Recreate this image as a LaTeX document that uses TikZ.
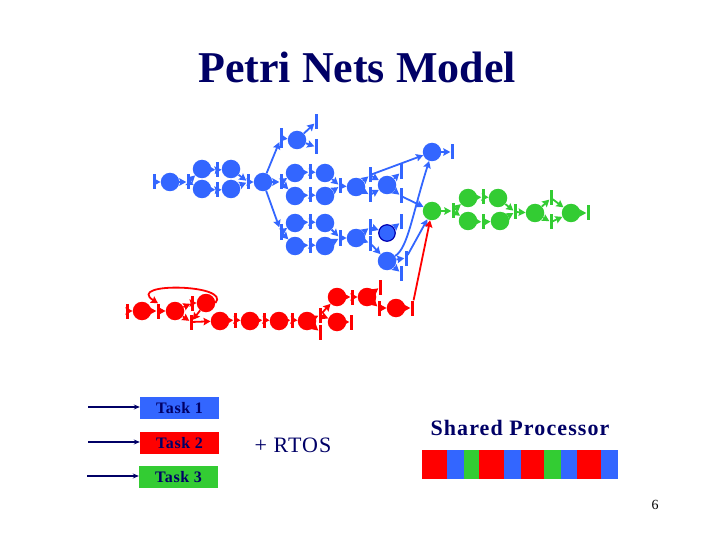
\documentclass[tikz,border=0pt]{standalone}
\usepackage{fontspec}
\setmainfont{Liberation Serif}
\usetikzlibrary{arrows.meta}
\definecolor{taskblue}{HTML}{3366FF}
\definecolor{taskred}{HTML}{FF0000}
\definecolor{taskgreen}{HTML}{33CC33}
\definecolor{inkblue}{HTML}{000066}
\tikzset{
	place/.style={circle, fill=#1, inner sep=0pt, minimum size=18.5pt},
	bar/.style={rectangle, fill=#1, inner sep=0pt, minimum width=3pt, minimum height=15pt},
	arc/.style={-{Stealth[length=7pt,width=7.5pt,inset=1pt]}, line width=1.8pt, color=#1},
	taskbox/.style={rectangle, fill=#1, inner sep=0pt, minimum width=79pt, minimum height=22pt, text=inkblue, font=\fontsize{16}{16}\selectfont\bfseries\addfontfeature{LetterSpace=4}},
	feed/.style={-{Stealth[length=6pt,width=5pt]}, line width=1.3pt, color=inkblue}
}
\begin{document}
\begin{tikzpicture}[x=1pt, y=-1pt]
	\useasboundingbox (0,0) rectangle (720,540);

	% Title
	\node[text=inkblue, font=\fontsize{44}{44}\selectfont\bfseries] (title) at (357,67) {Petri Nets Model};

	% Task 1 places
	\foreach \n/\x/\y in {p1/170/182, p2/202/169, p3/231/169, p4/202/189, p5/231/189, p6/263/182,
		p7/297/140, p8/295/173, p9/325/173, p10/295/196, p11/325/196, p12/356/187,
		p13/295/223, p14/325/223, p15/295/246, p16/325/246, p17/356/238,
		p19/387/185, p20/432/152, p22/387/261}
		\node[place=taskblue] (\n) at (\x,\y) {};
	\node[place=taskblue, draw=blue!70!black, line width=1.2pt, minimum size=16.5pt] (p21) at (387,233) {};

	% Task 1 transitions
	\foreach \n/\x/\y in {t0/154/182, t1/188/182, t2/217/170, t3/217/190, t4/248/182,
		t6/316/122, t7/316/147, t8/281/182, t9/310/172, t10/310/195, t11/340/186,
		t12/281/232, t13/310/222, t14/310/245, t15/340/238,
		t16/370/175, t17/370/195, t18/401/172, t19/401/196, t20/370/227, t21/370/243,
		t22/401/222, t23/406/258, t24/401/273, t25/452/152}
		\node[bar=taskblue] (\n) at (\x,\y) {};
	\node[bar=taskblue, minimum height=20pt] (t5) at (281,138) {};

	% Task 1 arcs
	\foreach \a/\b in {t0/p1, p1/t1, t1/p2, t1/p4, p2/t2, t2/p3, p4/t3, t3/p5, p3/t4, p5/t4, t4/p6,
		p6/t5, t5/p7, p7/t6, p7/t7, p6/t8, t8/p8, t8/p10, p8/t9, t9/p9, p10/t10, t10/p11,
		p9/t11, p11/t11, t11/p12, p6/t12, t12/p13, t12/p15, p13/t13, t13/p14, p15/t14, t14/p16,
		p14/t15, p16/t15, t15/p17, p12/t16, t16/p20, t16/p19, p12/t17, t17/p19, p19/t18, p19/t19,
		p17/t20, t20/p21, p17/t21, t21/p22, p21/t22, p22/t23, p22/t24, p20/t25}
		\draw[arc=taskblue] (\a) -- (\b);

	% Task 1 back to the top place
	\draw[arc=taskblue] (p22) .. controls (408,248) and (412,215) .. (p20);

	% Task 3 places
	\foreach \n/\x/\y in {g1/432/211, g2/468/198, g3/498/198, g4/468/221, g5/500/221, g6/535/213, g7/571/213}
		\node[place=taskgreen] (\n) at (\x,\y) {};

	% Task 3 transitions
	\foreach \n/\x/\y in {u1/453/211, u2/483/197, u3/483/222, u4/515/212, u5/551/198, u6/551/222, u7/588/213}
		\node[bar=taskgreen] (\n) at (\x,\y) {};

	% Task 3 arcs
	\foreach \a/\b in {g1/u1, u1/g2, u1/g4, g2/u2, u2/g3, g4/u3, u3/g5, g3/u4, g5/u4, u4/g6,
		g6/u5, g6/u6, u5/g7, u6/g7, g7/u7}
		\draw[arc=taskgreen] (\a) -- (\b);

	% Task 1 into the first green place
	\foreach \a/\b in {t19/g1, t23/g1}
		\draw[arc=taskblue] (\a) -- (\b);

	% Task 2 places
	\foreach \n/\x/\y in {r1/142/311, r2/175/311, r3/206/303, r4/220/321, r5/250/321, r6/279/321,
		r7/307/321, r8/337/297, r9/367/297, r10/337/322, r11/396/308}
		\node[place=taskred] (\n) at (\x,\y) {};

	% Task 2 transitions
	\foreach \n/\x/\y in {v0/127/311, v1/158/311, v2/192/303, v3/191/322, v4/235/320, v5/264/320,
		v6/292/320, v7/320/315, v8/320/332, v9/352/297, v10/380/287, v11/379/308, v12/351/322, v13/412/308}
		\node[bar=taskred] (\n) at (\x,\y) {};

	% Task 2 arcs
	\foreach \a/\b in {v0/r1, r1/v1, v1/r2, r2/v2, v2/r3, r3/v3, r2/v3, v3/r4, r4/v4, v4/r5, r5/v5,
		v5/r6, r6/v6, v6/r7, r7/v7, v7/r8, v7/r10, r7/v8, r8/v9, v9/r9, r9/v10, r9/v11, v11/r11,
		r10/v12, r11/v13, v13/g1}
		\draw[arc=taskred] (\a) -- (\b);
	\draw[arc=taskred] (r3.east) .. controls (232,284) and (125,282) .. (v1.north);

	% Legend
	\node[taskbox=taskblue] (task1) at (179.5,408) {Task 1};
	\node[taskbox=taskred] (task2) at (179.5,443) {Task 2};
	\node[taskbox=taskgreen] (task3) at (178.5,477) {Task 3};
	\coordinate (in1) at (88,407);
	\coordinate (in2) at (88,442);
	\coordinate (in3) at (87,476);
	\foreach \a/\b in {in1/task1, in2/task2, in3/task3}
		\draw[feed] (\a) -- (\a -| \b.west);
	\node[text=inkblue, font=\fontsize{22}{22}\selectfont\addfontfeature{LetterSpace=5}] (rtos) at (293,445) {+ RTOS};

	% Shared processor
	\node[text=inkblue, font=\fontsize{22}{22}\selectfont\bfseries\addfontfeature{LetterSpace=5}] (shared) at (520,428) {Shared Processor};
	\foreach \a/\b/\c in {422/447/taskred, 447/464/taskblue, 464/479/taskgreen, 479/504/taskred,
		504/521/taskblue, 521/544/taskred, 544/561/taskgreen, 561/577/taskblue, 577/601/taskred, 601/618/taskblue}
		\fill[\c] (\a,450) rectangle (\b,479);

	% Page number
	\node[text=black, font=\fontsize{14}{14}\selectfont] (page) at (655,505) {6};
\end{tikzpicture}
\end{document}
